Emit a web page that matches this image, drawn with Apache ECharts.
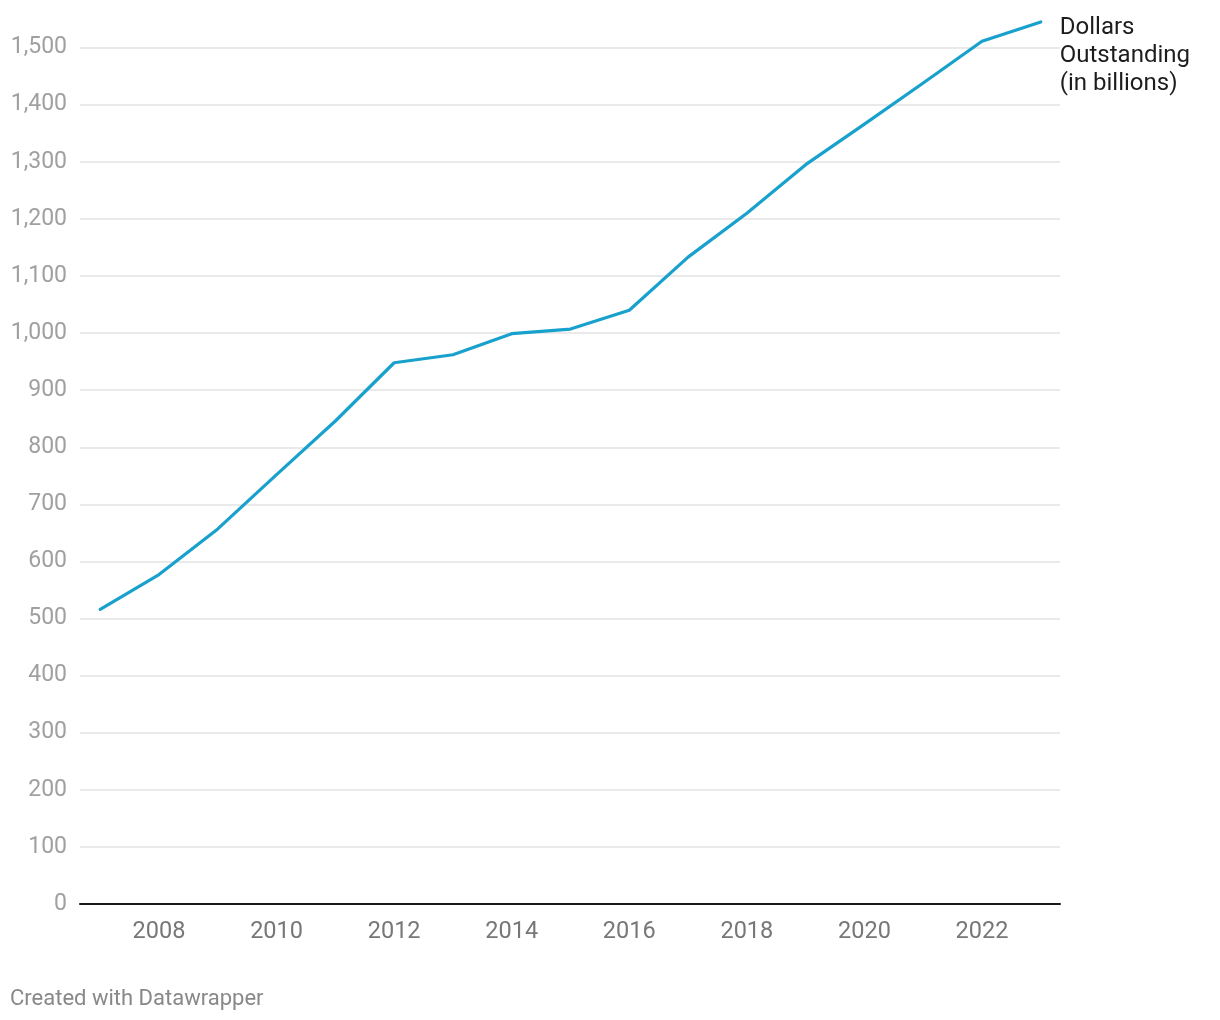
<!DOCTYPE html>
<html>
<head>
<meta charset="utf-8">
<script src="https://cdn.jsdelivr.net/npm/echarts@6/dist/echarts.min.js"></script>
<style>
html,body{margin:0;padding:0;background:#fff;}
#chart{width:1220px;height:1020px;}
</style>
</head>
<body>
<div id="chart"></div>
<script>
const years = [2007,2008,2009,2010,2011,2012,2013,2014,2015,2016,2017,2018,2019,2020,2021,2022,2023];
const dollarsOutstanding = [516,577,657,752,846,948,962,999,1007,1040,1133,1210,1295,1366,1438,1511,1545];
const xTickLabels = [2008,2010,2012,2014,2016,2018,2020,2022];
const seriesName = 'Dollars\nOutstanding\n(in billions)';
const credit = 'Created with Datawrapper';

const chart = echarts.init(document.getElementById('chart'), null, {renderer:'canvas'});
const font = 'Roboto, "Noto Sans", sans-serif';
chart.setOption({
  animation:false,
  backgroundColor:'#ffffff',
  grid:{left:80, right:160, top:47.6, bottom:116, containLabel:false},
  xAxis:{
    type:'value',
    min:2006.656, max:2023.327,
    axisLine:{show:true, lineStyle:{color:'#1a1a1a', width:2}},
    axisTick:{show:false},
    splitLine:{show:false},
    axisLabel:{
      customValues:xTickLabels,
      color:'#777777', fontSize:23.5, fontFamily:font, margin:16,
      formatter:v=>String(v)
    }
  },
  yAxis:{
    type:'value',
    min:0, max:1500, interval:100,
    axisLine:{show:false},
    axisTick:{show:false},
    splitLine:{show:true, lineStyle:{color:'#e3e3e3', width:1.5}},
    axisLabel:{
      color:'#a0a0a0', fontSize:23, fontFamily:font, margin:13,
      padding:[3,0,0,0],
      formatter:v=>v.toLocaleString('en-US')
    }
  },
  series:[{
    type:'line',
    name:seriesName,
    data:years.map((y,i)=>[y, dollarsOutstanding[i]]),
    showSymbol:false,
    symbol:'none',
    clip:false,
    lineStyle:{color:'#18a1cd', width:3.2, cap:'round', join:'round'},
    z:5,
    endLabel:{
      show:true,
      formatter:seriesName,
      color:'#1d1d1d', fontSize:24, fontFamily:font,
      lineHeight:28, distance:19, offset:[0,34], align:'left'
    }
  }],
  graphic:[{
    type:'text', left:10, top:988,
    style:{text:credit, fill:'#888888', fontSize:22, fontFamily:font}
  }]
});
</script>
</body>
</html>
